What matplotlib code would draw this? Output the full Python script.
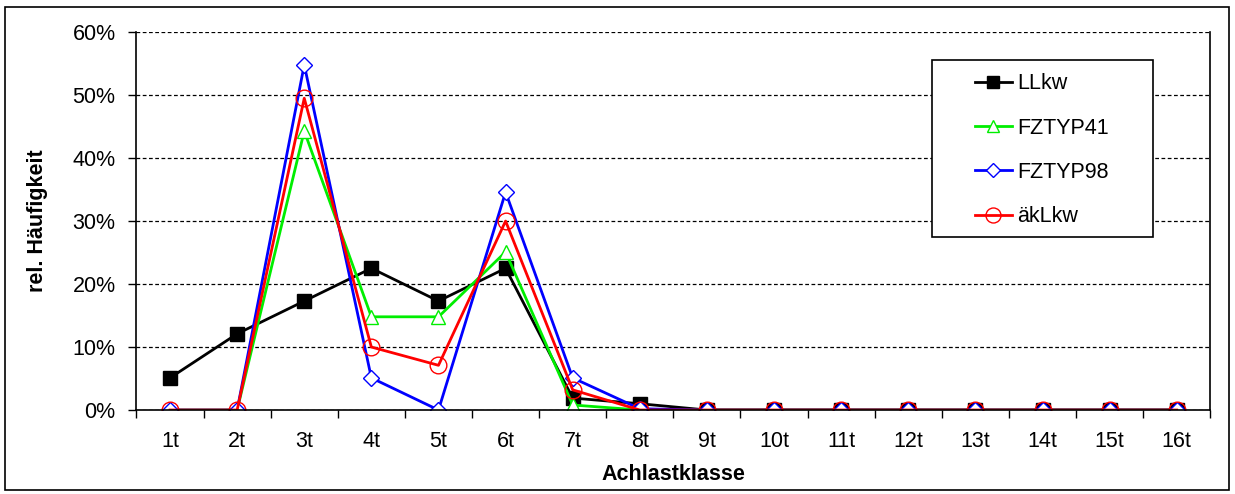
import matplotlib
matplotlib.use("Agg")
import numpy as np
import matplotlib.pyplot as plt
from matplotlib.patches import Rectangle
from matplotlib.ticker import FuncFormatter

plt.rcParams['font.family'] = ['Liberation Sans', 'DejaVu Sans']

# Achlastklassen
klassen = ['1t', '2t', '3t', '4t', '5t', '6t', '7t', '8t',
           '9t', '10t', '11t', '12t', '13t', '14t', '15t', '16t']

# relative Haeufigkeiten in Prozent
llkw = [5.1, 12.1, 17.3, 22.5, 17.3, 22.5, 1.9, 1.0, 0, 0, 0, 0, 0, 0, 0, 0]
fztyp41 = [0, 0, 44.3, 14.8, 14.8, 25.1, 0.8, 0, 0, 0, 0, 0, 0, 0, 0, 0]
fztyp98 = [0, 0, 54.8, 5.1, 0, 34.6, 5.1, 0.2, 0, 0, 0, 0, 0, 0, 0, 0]
aeklkw = [0, 0, 49.5, 10.0, 7.1, 30.0, 3.2, 0, 0, 0, 0, 0, 0, 0, 0, 0]

fs = 15.5
x = np.arange(1, len(klassen) + 1)

fig = plt.figure(figsize=(12.35, 4.94), dpi=100)
ax = fig.add_axes([0.1105, 0.170, 0.8695, 0.765])

ax.plot(x, llkw, color='black', lw=2, marker='s', ms=10, mfc='black',
        mec='black', label='LLkw')
ax.plot(x, fztyp41, color='#00ee00', lw=2, marker='^', ms=10, mfc='white',
        mec='#00ee00', mew=1, label='FZTYP41')
ax.plot(x, fztyp98, color='blue', lw=2, marker='D', ms=8, mfc='white',
        mec='blue', mew=1, label='FZTYP98')
ax.plot(x, aeklkw, color='red', lw=2, marker='o', ms=12, mfc='none',
        mec='red', mew=1, label='äkLkw')

ax.set_xlim(0.5, len(klassen) + 0.5)
ax.set_ylim(0, 60)
ax.set_yticks(np.arange(0, 61, 10))
ax.yaxis.set_major_formatter(FuncFormatter(lambda v, p: '%d%%' % v))
ax.yaxis.grid(True, color='black', ls=(0, (3, 2)), lw=0.9)
ax.set_axisbelow(True)

ax.set_xticks(np.arange(0.5, len(klassen) + 1, 1))
ax.set_xticklabels([])
ax.set_xticks(x, minor=True)
ax.set_xticklabels(klassen, minor=True)
ax.tick_params(axis='x', which='major', direction='out', length=6, width=1)
ax.tick_params(axis='x', which='minor', length=0, pad=15, labelsize=fs)
ax.tick_params(axis='y', direction='out', length=6, width=1, labelsize=fs, pad=9)

ax.spines['top'].set_visible(False)
for s in ['left', 'bottom', 'right']:
    ax.spines[s].set_linewidth(1.2)

ax.set_xlabel('Achlastklasse', fontsize=fs, fontweight='bold', labelpad=9)
ax.set_ylabel('rel. Häufigkeit', fontsize=fs, fontweight='bold', labelpad=18)

# legend without frame, white box with frame drawn separately
leg = ax.legend(loc='upper left', bbox_to_anchor=(0.781, 0.891), fontsize=fs,
                frameon=False, handlelength=1.7, labelspacing=1.08,
                borderpad=0, borderaxespad=0, handletextpad=0.25, markerscale=0.9)
leg.set_zorder(6)
ax.add_patch(Rectangle((0.7404, 0.4577), 0.206, 0.4683, transform=ax.transAxes,
                       facecolor='white', edgecolor='black', lw=1.2, zorder=5))

fig.patches.append(Rectangle((0.004, 0.008), 0.991, 0.978, transform=fig.transFigure,
                             fill=False, edgecolor='black', lw=1.2))

fig.savefig('out.png', dpi=100)
